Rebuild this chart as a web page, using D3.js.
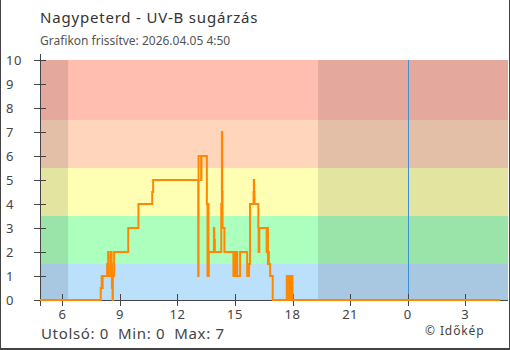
<!DOCTYPE html>
<html><head><meta charset="utf-8">
<script src="https://cdn.jsdelivr.net/npm/d3@7"></script>
<style>
html,body{margin:0;padding:0;background:#fff;}
svg{display:block;font-family:"Noto Sans",sans-serif;}
</style></head>
<body><svg id="c" width="510" height="350"></svg>
<script>
// ---- data ----
const titleText = "Nagypeterd - UV-B sugárzás";
const subtitleText = "Grafikon frissítve: 2026.04.05 4:50";
const creditText = "© Időkép";
const times = [
 "2026-04-04 04:50","2026-04-04 08:00","2026-04-04 08:03","2026-04-04 08:05","2026-04-04 08:06",
 "2026-04-04 08:20","2026-04-04 08:23","2026-04-04 08:25","2026-04-04 08:32","2026-04-04 08:34",
 "2026-04-04 08:35","2026-04-04 08:36","2026-04-04 08:37","2026-04-04 08:38","2026-04-04 08:42",
 "2026-04-04 09:26","2026-04-04 09:58","2026-04-04 10:41","2026-04-04 10:44","2026-04-04 13:05",
 "2026-04-04 13:06","2026-04-04 13:14","2026-04-04 13:15","2026-04-04 13:32","2026-04-04 13:34",
 "2026-04-04 13:35","2026-04-04 13:37","2026-04-04 13:38","2026-04-04 13:54","2026-04-04 13:55",
 "2026-04-04 13:57","2026-04-04 14:17","2026-04-04 14:19","2026-04-04 14:20","2026-04-04 14:21",
 "2026-04-04 14:27","2026-04-04 14:55","2026-04-04 14:56","2026-04-04 14:58","2026-04-04 14:59",
 "2026-04-04 15:01","2026-04-04 15:02","2026-04-04 15:04","2026-04-04 15:05","2026-04-04 15:07",
 "2026-04-04 15:16","2026-04-04 15:38","2026-04-04 15:44","2026-04-04 15:47","2026-04-04 15:58",
 "2026-04-04 15:59","2026-04-04 16:00","2026-04-04 16:01","2026-04-04 16:13","2026-04-04 16:14",
 "2026-04-04 16:16","2026-04-04 16:39","2026-04-04 16:40","2026-04-04 16:41","2026-04-04 16:42",
 "2026-04-04 16:43","2026-04-04 16:45","2026-04-04 16:46","2026-04-04 16:50","2026-04-04 16:58",
 "2026-04-04 17:42","2026-04-04 17:45","2026-04-04 17:46","2026-04-04 17:50","2026-04-04 17:51",
 "2026-04-04 17:55","2026-04-04 17:56","2026-04-04 18:00","2026-04-05 04:50"
];
const uvValues = [
 0,0.5,1,0.5,1,
 1.5,2,1,2,1.5,
 0.5,1,0,1,2,
 3,4,4.5,5,1,
 6,5,6,4,1,
 4,1,2,3,2.5,
 2,4,7,4.5,3,
 2,1,2,1,2,
 1,2,1,2,1,
 2,1,1.5,4,4.5,
 5,4.5,4,3,2,
 3,2,3,2,3,
 1.5,2,1.5,1,0,
 1,0,1,0,1,
 0,1,0,0
];
const domainStart = "2026-04-04 04:50";
const domainEnd = "2026-04-05 05:14";
const sunrise = "2026-04-04 06:18";
const sunset = "2026-04-04 19:20";
const midnight = "2026-04-05 00:00";
const bandLimits = [0, 1.5, 3.5, 5.5, 7.5, 10];
const bandColors = ["#bbe0fb", "#adffbd", "#ffffb4", "#ffd6bc", "#ffbeaf"];
const yTicks = [0,1,2,3,4,5,6,7,8,9,10];

// ---- chart ----
const parse = d3.timeParse("%Y-%m-%d %H:%M");
const data = times.map((t,i)=>({t:parse(t), v:uvValues[i]}));
const svg = d3.select("#c");
const L=40, R=508, T=60, B=300;
const x = d3.scaleTime().domain([parse(domainStart), parse(domainEnd)]).range([L, R]);
const y = d3.scaleLinear().domain([0,10]).range([B, T]);

// bands
svg.append("g").selectAll("rect").data(bandColors).join("rect")
  .attr("x", L).attr("width", R-L)
  .attr("y", (c,i)=>y(bandLimits[i+1]))
  .attr("height", (c,i)=>y(bandLimits[i])-y(bandLimits[i+1]))
  .attr("fill", c=>c);

// night overlays
const nights = [[parse(domainStart), parse(sunrise)], [parse(sunset), parse(domainEnd)]];
svg.append("g").selectAll("rect").data(nights).join("rect")
  .attr("x", d=>x(d[0])).attr("width", d=>x(d[1])-x(d[0]))
  .attr("y", T).attr("height", B-T)
  .attr("fill", "#000").attr("fill-opacity", 0.105);

// midnight line
svg.append("line")
  .attr("x1", Math.round(x(parse(midnight)))+0.5).attr("x2", Math.round(x(parse(midnight)))+0.5)
  .attr("y1", T).attr("y2", B+6)
  .attr("stroke", "#3d8fd4").attr("stroke-width", 1);

// axes
const axCol = "#444";
const yAxis = svg.append("g");
yAxis.append("line").attr("x1", L+0.5).attr("x2", L+0.5).attr("y1", T-6).attr("y2", B+6)
  .attr("stroke", axCol);
yAxis.selectAll(".yt").data(yTicks).join("line")
  .attr("x1", L-6).attr("x2", L+6)
  .attr("y1", d=>Math.round(y(d))+0.5).attr("y2", d=>Math.round(y(d))+0.5)
  .attr("stroke", axCol);
yAxis.selectAll("text").data(yTicks).join("text")
  .attr("x", 6).attr("y", d=>y(d)+4.5)
  .attr("font-size", 13).attr("fill", "#444").attr("letter-spacing", 0.5)
  .text(d=>d);

const xTicks = x.ticks(d3.timeHour.every(3));
const xAxis = svg.append("g");
xAxis.append("line").attr("x1", L-6).attr("x2", R).attr("y1", B+0.5).attr("y2", B+0.5)
  .attr("stroke", axCol);
xAxis.selectAll("line.xt").data(xTicks).join("line").attr("class","xt")
  .attr("x1", d=>Math.round(x(d))+0.5).attr("x2", d=>Math.round(x(d))+0.5)
  .attr("y1", B-6).attr("y2", B+6)
  .attr("stroke", axCol);
xAxis.selectAll("text").data(xTicks).join("text")
  .attr("x", d=>x(d)).attr("y", 319)
  .attr("text-anchor", "middle")
  .attr("font-size", 13).attr("fill", "#444").attr("letter-spacing", 0.5)
  .text(d=>d3.timeFormat("%-H")(d));

// data line
const line = d3.line().x(d=>x(d.t)).y(d=>y(d.v)).curve(d3.curveStepAfter);
svg.append("path").datum(data)
  .attr("d", line)
  .attr("fill", "none").attr("stroke", "#ff8800").attr("stroke-width", 2);

// texts
svg.append("text").attr("x", 40).attr("y", 23)
  .attr("font-size", 15).attr("letter-spacing", 0.8).attr("fill", "#333").text(titleText);
svg.append("text").attr("x", 40).attr("y", 45)
  .attr("font-size", 12).attr("fill", "#555").text(subtitleText);

const last = uvValues[uvValues.length-1], mn = d3.min(uvValues), mx = d3.max(uvValues);
svg.append("text").attr("x", 41).attr("y", 339)
  .attr("font-size", 15).attr("letter-spacing", 0.65).attr("fill", "#444")
  .style("white-space", "pre")
  .text(`Utolsó: ${last}  Min: ${mn}  Max: ${mx}`);
svg.append("text").attr("x", 425).attr("y", 335)
  .attr("font-size", 12).attr("letter-spacing", 0.9).attr("fill", "#444").text(creditText);

// frame
svg.append("line").attr("x1",0.5).attr("x2",0.5).attr("y1",0).attr("y2",350).attr("stroke","#444");
svg.append("line").attr("x1",509.5).attr("x2",509.5).attr("y1",0).attr("y2",350).attr("stroke","#444");
svg.append("line").attr("x1",0).attr("x2",510).attr("y1",349).attr("y2",349).attr("stroke","#444").attr("stroke-width",2);
</script></body></html>
